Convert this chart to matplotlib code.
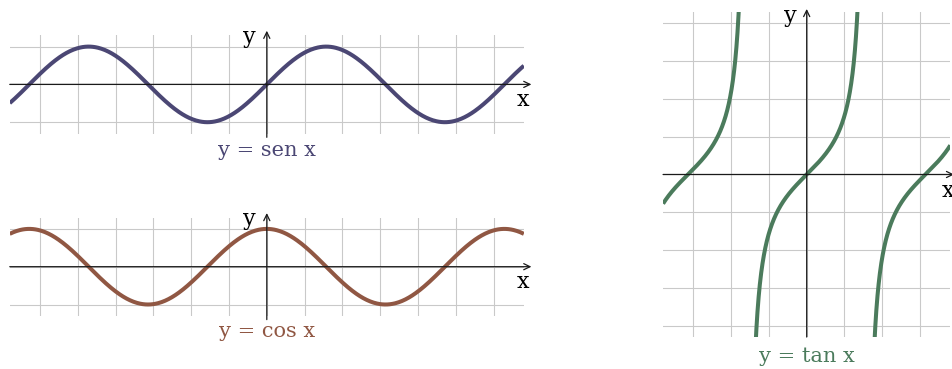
import numpy as np
import matplotlib
matplotlib.use("Agg")
import matplotlib.pyplot as plt

plt.rcParams["font.family"] = ["DejaVu Serif"]

W, H = 953, 369          # figure size in px
U = 37.8                 # px per unit on both axes

# curve domains and visible windows (data units)
SIN_X = (-6.8, 6.8)
SIN_Y = (-1.3, 1.3)
COS_X = (-6.8, 6.8)
COS_Y = (-1.3, 1.3)
TAN_X = (-3.8, 3.8)
TAN_Y = (-4.3, 4.3)
TAN_POLES = [-1.5 * np.pi, -0.5 * np.pi, 0.5 * np.pi, 1.5 * np.pi]

SIN_COLOR = "#4b4774"
COS_COLOR = "#905743"
TAN_COLOR = "#4b7b5c"
GRID_COLOR = "#c9c9c9"
AXIS_COLOR = "#1a1a1a"


def panel(fig, ox, oy, xlim, ylim):
    # ox, oy: pixel position of the origin (from top-left)
    left = (ox + xlim[0] * U) / W
    bottom = (H - oy - ylim[1] * U) / H
    ax = fig.add_axes([left, bottom,
                       (xlim[1] - xlim[0]) * U / W,
                       (ylim[1] - ylim[0]) * U / H])
    ax.set_xlim(xlim)
    ax.set_ylim(ylim)
    ax.set_xticks(np.arange(np.ceil(xlim[0]), np.floor(xlim[1]) + 1))
    ax.set_yticks(np.arange(np.ceil(ylim[0]), np.floor(ylim[1]) + 1))
    ax.grid(True, color=GRID_COLOR, lw=0.8)
    ax.set_axisbelow(True)
    ax.tick_params(length=0, labelbottom=False, labelleft=False)
    for s in ax.spines.values():
        s.set_visible(False)
    ax.patch.set_alpha(0)
    return ax


def arrows(ax, x0, x1, y0, y1, xlab, ylab):
    style = dict(arrowstyle="->,head_length=0.45,head_width=0.22",
                 color=AXIS_COLOR, lw=0.9, shrinkA=0, shrinkB=0)
    ax.annotate("", xy=(x1, 0), xytext=(x0, 0), arrowprops=style,
                annotation_clip=False)
    ax.annotate("", xy=(0, y1), xytext=(0, y0), arrowprops=style,
                annotation_clip=False)
    ax.text(xlab[0], xlab[1], "x", fontsize=16, ha="center", va="center",
            clip_on=False)
    ax.text(ylab[0], ylab[1], "y", fontsize=16, ha="center", va="center",
            clip_on=False)


fig = plt.figure(figsize=(W / 100, H / 100), dpi=100)

# y = sen x
ax = panel(fig, 266.8, 84.4, SIN_X, SIN_Y)
arrows(ax, SIN_X[0], 7.0, -1.4, 1.42, (6.78, -0.4), (-0.47, 1.25))
x = np.linspace(*SIN_X, 600)
ax.plot(x, np.sin(x), color=SIN_COLOR, lw=2.9, solid_capstyle="butt")
ax.text(0, -1.9, "y = sen x", color=SIN_COLOR, fontsize=15,
        ha="center", va="baseline", clip_on=False)

# y = cos x
ax = panel(fig, 266.8, 266.7, COS_X, COS_Y)
arrows(ax, COS_X[0], 7.0, -1.4, 1.42, (6.78, -0.4), (-0.47, 1.25))
x = np.linspace(*COS_X, 600)
ax.plot(x, np.cos(x), color=COS_COLOR, lw=2.9, solid_capstyle="butt")
ax.text(0, -1.85, "y = cos x", color=COS_COLOR, fontsize=15,
        ha="center", va="baseline", clip_on=False)

# y = tan x, one branch between each pair of poles
ax = panel(fig, 806.7, 174.5, TAN_X, TAN_Y)
arrows(ax, TAN_X[0], 3.9, TAN_Y[0], 4.38, (3.74, -0.44), (-0.44, 4.19))
edges = [TAN_X[0]] + [p for p in TAN_POLES if TAN_X[0] < p < TAN_X[1]] + [TAN_X[1]]
for a, b in zip(edges[:-1], edges[1:]):
    x = np.linspace(a + 1e-3, b - 1e-3, 800)
    ax.plot(x, np.tan(x), color=TAN_COLOR, lw=2.9, solid_capstyle="butt")
ax.text(0, -4.97, "y = tan x", color=TAN_COLOR, fontsize=15,
        ha="center", va="baseline", clip_on=False)

fig.savefig("out.png", dpi=100)
